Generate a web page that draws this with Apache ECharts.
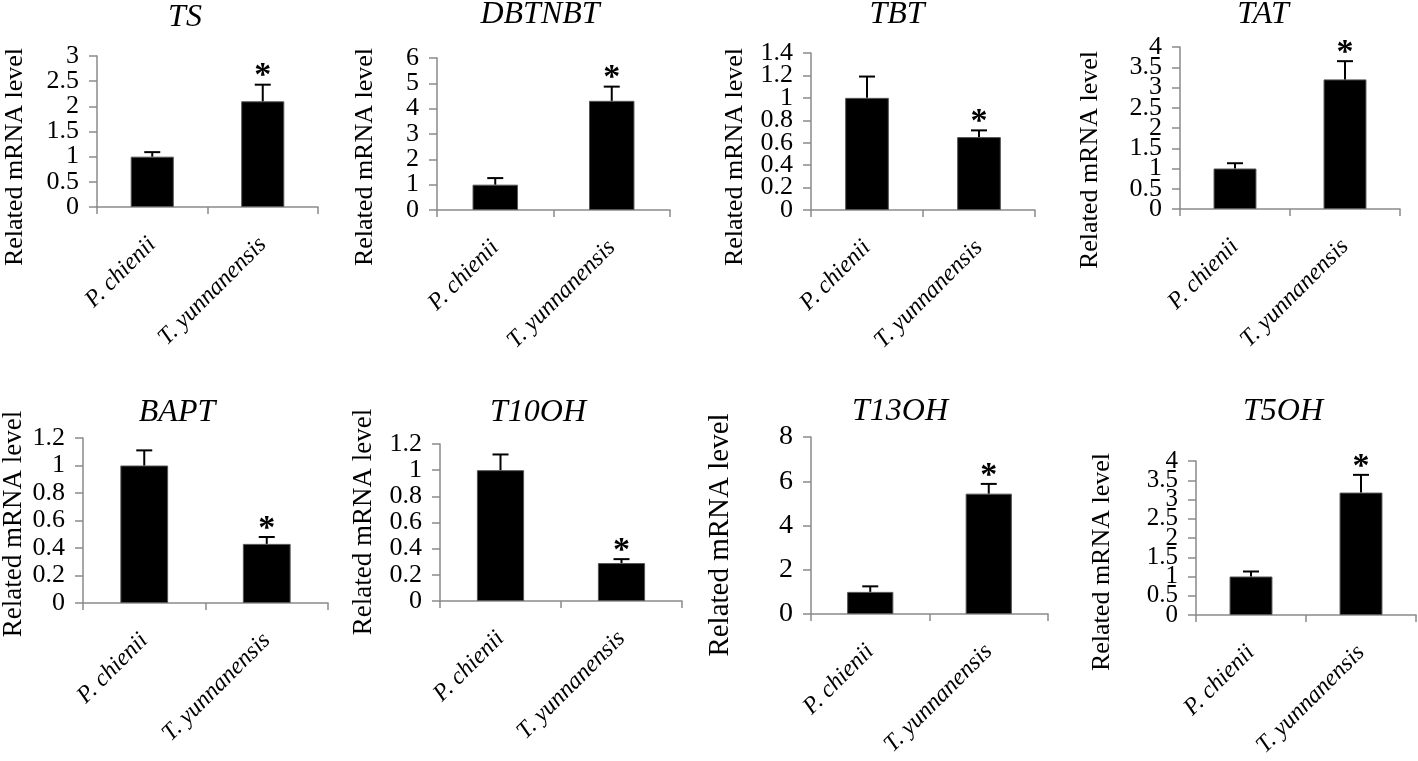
<!DOCTYPE html>
<html>
<head>
<meta charset="utf-8">
<script src="https://cdn.jsdelivr.net/npm/echarts@6/dist/echarts.min.js"></script>
<style>
  html, body { margin: 0; padding: 0; background: #fff; }
  #chart { width: 1418px; height: 761px; }
</style>
</head>
<body>
<div id="chart"></div>
<script>
// ---- data ----
const categories = ['P. chienii', 'T. yunnanensis'];
const genes = ['TS', 'DBTNBT', 'TBT', 'TAT', 'BAPT', 'T10OH', 'T13OH', 'T5OH'];
const chieniiMean = [1.0, 1.0, 1.0, 1.0, 1.0, 1.0, 1.0, 1.0];
const yunnanMean  = [2.1, 4.31, 0.65, 3.2, 0.43, 0.29, 5.44, 3.18];
const chieniiErr  = [0.09, 0.26, 0.19, 0.13, 0.11, 0.12, 0.25, 0.13];
const yunnanErr   = [0.33, 0.56, 0.06, 0.45, 0.05, 0.03, 0.44, 0.46];
const chieniiSig  = [false, false, false, false, false, false, false, false];
const yunnanSig   = [true, true, true, true, true, true, true, true];
const axisMax     = [3, 6, 1.4, 4, 1.2, 1.2, 8, 4];
const axisStep    = [0.5, 1, 0.2, 0.5, 0.2, 0.2, 2, 0.5];
const yTitle = 'Related mRNA level';

// ---- layout (pixels) ----
const layout = [
  { left: 97,   top: 56,  width: 221, height: 151, tx: 185,  ty: 18,  nx: 15,   ny: 157, nf: 26, lf: 26 },
  { left: 437,  top: 58,  width: 233, height: 152, tx: 540,  ty: 15,  nx: 365,  ny: 157, nf: 26, lf: 26 },
  { left: 811,  top: 53,  width: 224, height: 157, tx: 897,  ty: 15,  nx: 735,  ny: 157, nf: 26, lf: 26 },
  { left: 1180, top: 47,  width: 220, height: 162, tx: 1263, ty: 15,  nx: 1090, ny: 160, nf: 26, lf: 26 },
  { left: 83,   top: 438, width: 245, height: 165, tx: 177,  ty: 413, nx: 14,   ny: 524, nf: 27, lf: 26 },
  { left: 440,  top: 444, width: 242, height: 157, tx: 538,  ty: 413, nx: 364,  ny: 522, nf: 27, lf: 26 },
  { left: 811,  top: 437, width: 237, height: 177, tx: 900,  ty: 412, nx: 720,  ny: 535, nf: 29, lf: 28 },
  { left: 1196, top: 461, width: 220, height: 154, tx: 1283, ty: 412, nx: 1102, ny: 562, nf: 26, lf: 25 }
];

const FONT = "'Liberation Serif', 'Times New Roman', serif";
const AXIS_COLOR = '#8a8a8a';

const grid = [], xAxis = [], yAxis = [], series = [], graphic = [];

function errRender(params, api) {
  const c = api.value(0), m = api.value(1), e = api.value(2), s = api.value(3);
  const base = api.coord([c, m]);
  const top = api.coord([c, m + e]);
  const cap = 8;
  const children = [
    { type: 'line', shape: { x1: base[0], y1: base[1], x2: top[0], y2: top[1] }, style: { stroke: '#000', lineWidth: 2 } },
    { type: 'line', shape: { x1: top[0] - cap, y1: top[1], x2: top[0] + cap, y2: top[1] }, style: { stroke: '#000', lineWidth: 2 } }
  ];
  if (s) {
    children.push({ type: 'text', x: top[0], y: top[1] - 8,
      style: { text: '*', font: "bold 34px " + FONT, align: 'center', verticalAlign: 'middle', fill: '#000' } });
  }
  return { type: 'group', children: children };
}

genes.forEach(function (g, i) {
  const L = layout[i];
  grid.push({ left: L.left, top: L.top, width: L.width, height: L.height, containLabel: false, outerBoundsMode: 'none' });
  xAxis.push({
    type: 'category', gridIndex: i, data: categories, boundaryGap: true,
    axisLine: { show: true, lineStyle: { color: AXIS_COLOR, width: 1.5 } },
    axisTick: { show: true, length: 7, lineStyle: { color: AXIS_COLOR, width: 1.5 } },
    axisLabel: { interval: 0, rotate: 45, margin: 34, hideOverlap: false,
      fontFamily: FONT, fontStyle: 'italic', fontSize: 24, color: '#000' },
    splitLine: { show: false }
  });
  const labelBase = { margin: 18, hideOverlap: false, fontFamily: FONT, fontSize: L.lf, color: '#000' };
  // main value axis: inner tick labels (ECharts would otherwise hide labels next to min/max when crowded)
  yAxis.push({
    type: 'value', gridIndex: i, position: 'left', min: 0, max: axisMax[i], interval: axisStep[i],
    axisLine: { show: true, lineStyle: { color: AXIS_COLOR, width: 1.5 } },
    axisTick: { show: true, length: 8, lineStyle: { color: AXIS_COLOR, width: 1.5 } },
    axisLabel: Object.assign({ showMinLabel: false, showMaxLabel: false }, labelBase),
    splitLine: { show: false }
  });
  // companion axis on the same scale: min / max tick labels
  const mx = axisMax[i];
  yAxis.push({
    type: 'value', gridIndex: i, position: 'left', offset: 0, min: 0, max: mx, interval: axisStep[i],
    axisLine: { show: false },
    axisTick: { show: true, length: 8, lineStyle: { color: AXIS_COLOR, width: 1.5 } },
    axisLabel: Object.assign({ showMinLabel: true, showMaxLabel: true,
      formatter: function (v) { return (v === 0 || Math.abs(v - mx) < 1e-9) ? String(v) : ''; } }, labelBase),
    splitLine: { show: false }
  });
  series.push({
    type: 'bar', xAxisIndex: i, yAxisIndex: 2 * i,
    data: [chieniiMean[i], yunnanMean[i]],
    barCategoryGap: '61%',
    itemStyle: { color: '#000', borderColor: '#555', borderWidth: 1 },
    silent: true
  });
  series.push({
    type: 'custom', xAxisIndex: i, yAxisIndex: 2 * i,
    encode: { x: 0, y: 1 },
    data: [
      [0, chieniiMean[i], chieniiErr[i], chieniiSig[i] ? 1 : 0],
      [1, yunnanMean[i], yunnanErr[i], yunnanSig[i] ? 1 : 0]
    ],
    renderItem: errRender,
    silent: true, z: 5
  });
  graphic.push({ type: 'text', x: L.tx, y: L.ty,
    style: { text: g, font: "italic 32px " + FONT, align: 'center', verticalAlign: 'middle', fill: '#000' } });
  graphic.push({ type: 'text', x: L.nx, y: L.ny, rotation: Math.PI / 2,
    style: { text: yTitle, font: L.nf + "px " + FONT, align: 'center', verticalAlign: 'middle', fill: '#000' } });
});

const chart = echarts.init(document.getElementById('chart'), null, { renderer: 'canvas' });
chart.setOption({
  backgroundColor: '#fff',
  animation: false,
  grid: grid, xAxis: xAxis, yAxis: yAxis, series: series, graphic: graphic
});
</script>
</body>
</html>
